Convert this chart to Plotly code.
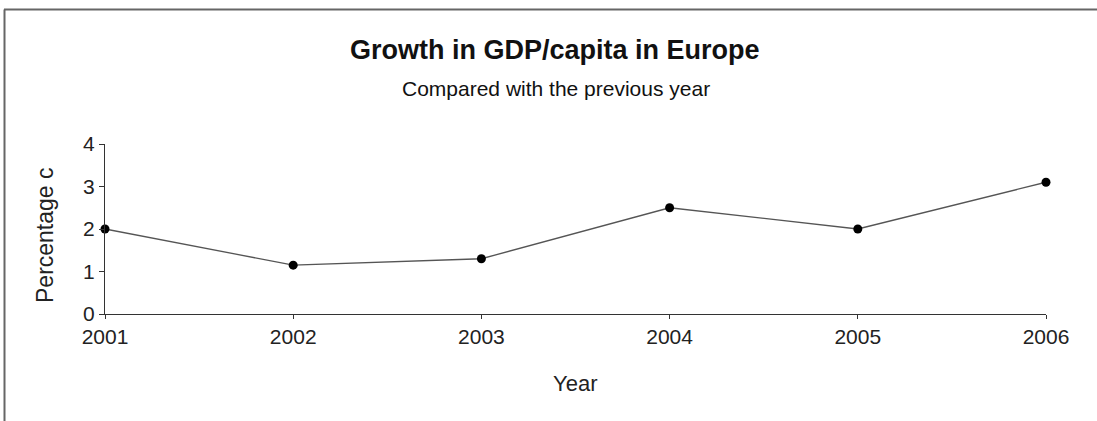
import plotly.graph_objects as go

years = [2001, 2002, 2003, 2004, 2005, 2006]
growth = [2.0, 1.15, 1.3, 2.5, 2.0, 3.1]
y_ticks = [0, 1, 2, 3, 4]

W, H = 1097, 421
L, R, T, B = 105, 51, 144, 107
pw, ph = W - L - R, H - T - B

def px(x):
    return (x - L) / pw

def py(y):
    return (H - B - y) / ph

font = "Liberation Sans, Arial, sans-serif"

fig = go.Figure()
fig.add_trace(go.Scatter(
    x=years, y=growth, mode="lines+markers",
    line=dict(color="#555555", width=1.3),
    marker=dict(color="black", size=9),
    cliponaxis=False,
))

def ann(text, x, y, size, angle=0, color="#222222"):
    return dict(text=text, x=px(x), y=py(y), xref="paper", yref="paper",
                xanchor="center", yanchor="middle", showarrow=False,
                textangle=angle, font=dict(size=size, family=font, color=color))

fig.update_layout(
    width=W, height=H,
    margin=dict(l=L, r=R, t=T, b=B),
    paper_bgcolor="white", plot_bgcolor="white",
    showlegend=False,
    font=dict(family=font, color="#222222"),
    xaxis=dict(
        range=[2001, 2006], tickvals=years, ticktext=[str(y) for y in years],
        showgrid=False, zeroline=False, showline=True, linecolor="#333333", linewidth=1.3,
        ticks="outside", ticklen=4, tickcolor="#333333",
        tickfont=dict(size=21, family=font, color="#222222"),
    ),
    yaxis=dict(
        range=[0, 4], tickvals=y_ticks,
        showgrid=False, zeroline=False, showline=True, linecolor="#333333", linewidth=1.3,
        ticks="outside", ticklen=5, tickcolor="#333333",
        tickfont=dict(size=21, family=font, color="#222222"),
    ),
    annotations=[
        ann("<b>Growth in GDP/capita in Europe</b>", 555, 50, 27, color="#111111"),
        ann("Compared with the previous year", 556, 88, 21, color="#111111"),
        ann("Year", 575, 383, 22),
        ann("Percentage c", 45, 235, 23, angle=-90),
    ],
    shapes=[
        dict(type="line", xref="paper", yref="paper",
             x0=px(4), x1=px(1097), y0=py(9.5), y1=py(9.5),
             line=dict(color="#666666", width=2)),
        dict(type="line", xref="paper", yref="paper",
             x0=px(4.5), x1=px(4.5), y0=py(9.5), y1=py(421),
             line=dict(color="#666666", width=2)),
    ],
)

fig.write_html("out.html", config={"displayModeBar": False},
               post_script="document.body.style.margin='0';document.body.style.overflow='hidden';")
